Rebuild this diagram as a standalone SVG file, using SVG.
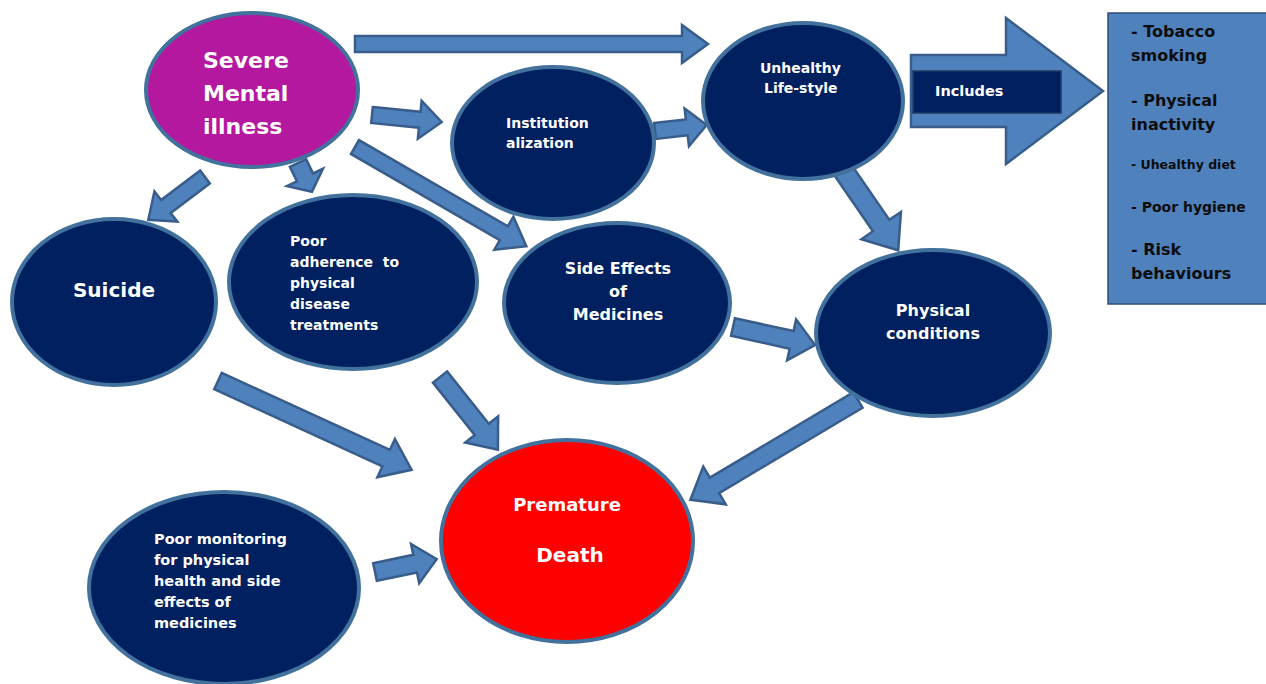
<svg xmlns="http://www.w3.org/2000/svg" width="1266" height="684" viewBox="0 0 1266 684">
<style>
.node{fill:#002060;stroke:#41719C;stroke-width:4}
.arr{fill:#4F81BD;stroke:#385D8A;stroke-width:2.5;stroke-linejoin:miter}
text{font-family:"DejaVu Sans","Open Sans",sans-serif;font-weight:bold;fill:#FFFFFF}
.c{text-anchor:middle}
.lst{fill:#0D0D0D}
</style>
<rect width="1266" height="684" fill="#FFFFFF"/>
<g id="connectors">
<polygon class="arr" transform="translate(355,44) rotate(0)" points="0,-8 327,-8 327,-19 353,0 327,19 327,8 0,8"/>
<polygon class="arr" transform="translate(372,115) rotate(5.7)" points="0,-8 48,-8 48,-19 70,0 48,19 48,8 0,8"/>
<polygon class="arr" transform="translate(655,131) rotate(-6.6)" points="0,-8 32,-8 32,-19 52,0 32,19 32,8 0,8"/>
<polygon class="arr" transform="translate(355,147) rotate(30.07)" points="0,-8 172,-8 172,-19 198,0 172,19 172,8 0,8"/>
<polygon class="arr" transform="translate(298,163) rotate(64.2)" points="0,-9 16,-9 16,-20 32,0 16,20 16,9 0,9"/>
<polygon class="arr" transform="translate(205,177) rotate(142.97)" points="0,-8 49,-8 49,-19 71,0 49,19 49,8 0,8"/>
<polygon class="arr" transform="translate(838,163) rotate(55.4)" points="0,-10 76,-10 76,-24 106,0 76,24 76,10 0,10"/>
<polygon class="arr" transform="translate(733,327) rotate(12.4)" points="0,-9 60,-9 60,-21 84,0 60,21 60,9 0,9"/>
<polygon class="arr" transform="translate(218,381) rotate(24.64)" points="0,-9 185,-9 185,-21 213,0 185,21 185,9 0,9"/>
<polygon class="arr" transform="translate(440,377) rotate(51.5)" points="0,-9 67,-9 67,-21 93,0 67,21 67,9 0,9"/>
<polygon class="arr" transform="translate(858,400) rotate(149.24)" points="0,-9 167,-9 167,-22 195,0 167,22 167,9 0,9"/>
<polygon class="arr" transform="translate(375,572) rotate(-11.8)" points="0,-9 41,-9 41,-20 63,0 41,20 41,9 0,9"/>
<polygon class="arr" points="911,55 1006,55 1006,18 1103,91 1006,164 1006,127 911,127"/>
</g>
<g id="includes">
<rect x="913" y="71" width="148" height="42" fill="#002060" stroke="#1F3864" stroke-width="1.5"/>
<text x="935" y="96" font-size="14.5">Includes</text>
</g>
<g id="list">
<rect x="1108" y="13" width="170" height="291" fill="#4F81BD" stroke="#2F4F7A" stroke-width="1.5"/>
<text class="lst" x="1131" y="37" font-size="16">- Tobacco</text>
<text class="lst" x="1131" y="61" font-size="16">smoking</text>
<text class="lst" x="1131" y="106" font-size="16">- Physical</text>
<text class="lst" x="1131" y="130" font-size="16">inactivity</text>
<text class="lst" x="1131" y="169" font-size="12.5">- Uhealthy diet</text>
<text class="lst" x="1131" y="212" font-size="14">- Poor hygiene</text>
<text class="lst" x="1131" y="255" font-size="16">- Risk</text>
<text class="lst" x="1131" y="279" font-size="16">behaviours</text>
</g>
<g id="severe">
<ellipse cx="252" cy="90" rx="106" ry="77" fill="#B4189F" stroke="#41719C" stroke-width="4"/>
<text x="203" y="68" font-size="22">Severe</text>
<text x="203" y="101" font-size="22">Mental</text>
<text x="203" y="134" font-size="22">illness</text>
</g>
<g id="institution">
<ellipse class="node" cx="553" cy="143" rx="101" ry="76"/>
<text x="506" y="128" font-size="14">Institution</text>
<text x="506" y="148" font-size="14">alization</text>
</g>
<g id="unhealthy">
<ellipse class="node" cx="803" cy="101" rx="100" ry="78"/>
<text x="760" y="73" font-size="14">Unhealthy</text>
<text x="764" y="93" font-size="14">Life-style</text>
</g>
<g id="suicide">
<ellipse class="node" cx="114" cy="302" rx="102" ry="83"/>
<text class="c" x="114" y="297" font-size="20">Suicide</text>
</g>
<g id="adherence">
<ellipse class="node" cx="353" cy="282" rx="124" ry="87"/>
<text x="290" y="246" font-size="14">Poor</text>
<text x="290" y="267" font-size="14" xml:space="preserve">adherence  to</text>
<text x="290" y="288" font-size="14">physical</text>
<text x="290" y="309" font-size="14">disease</text>
<text x="290" y="330" font-size="14">treatments</text>
</g>
<g id="sideeffects">
<ellipse class="node" cx="617" cy="303" rx="113" ry="80"/>
<text class="c" x="618" y="274" font-size="16">Side Effects</text>
<text class="c" x="618" y="297" font-size="16">of</text>
<text class="c" x="618" y="320" font-size="16">Medicines</text>
</g>
<g id="physical">
<ellipse class="node" cx="933" cy="333" rx="117" ry="83"/>
<text class="c" x="933" y="316" font-size="16">Physical</text>
<text class="c" x="933" y="339" font-size="16">conditions</text>
</g>
<g id="death">
<ellipse cx="567" cy="541" rx="126" ry="101" fill="#FF0000" stroke="#41719C" stroke-width="4"/>
<text class="c" x="567" y="511" font-size="18">Premature</text>
<text class="c" x="570" y="562" font-size="20">Death</text>
</g>
<g id="monitoring">
<ellipse class="node" cx="224" cy="588" rx="135" ry="96"/>
<text x="154" y="544" font-size="14.5">Poor monitoring</text>
<text x="154" y="565" font-size="14.5">for physical</text>
<text x="154" y="586" font-size="14.5">health and side</text>
<text x="154" y="607" font-size="14.5">effects of</text>
<text x="154" y="628" font-size="14.5">medicines</text>
</g>
</svg>
